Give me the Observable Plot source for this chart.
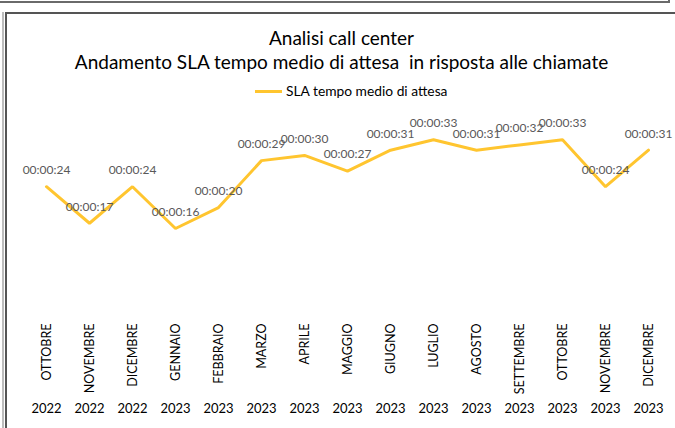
<!DOCTYPE html>
<html>
<head>
<meta charset="utf-8">
<script src="https://cdn.jsdelivr.net/npm/d3@7"></script>
<script src="https://cdn.jsdelivr.net/npm/@observablehq/plot@0.6"></script>
<style>
  html, body { margin: 0; padding: 0; background: #fff; }
  body { width: 675px; height: 428px; position: relative; overflow: hidden; font-family: Lato, "Open Sans", sans-serif; }
  #topline { position: absolute; left: 0; top: 1px; width: 670px; height: 2px; background: #6a6a6a; }
  #topcorner { position: absolute; left: 668px; top: 0; width: 2px; height: 3px; background: #6a6a6a; }
  #leftline { position: absolute; left: 2px; top: 12px; width: 2px; height: 420px; background: #bdbdbd; }
  #box { position: absolute; left: 5px; top: 12px; width: 700px; height: 430px; border-left: 2px solid #555; border-top: 2px solid #555; }
  .title { position: absolute; left: 4px; width: 675px; text-align: center; color: #000; white-space: pre; font-size: 19px; line-height: 22px; }
  #t1 { top: 27px; }
  #t2 { top: 51px; }
  #legend { position: absolute; top: 82px; left: 255px; font-size: 13.8px; line-height: 18px; color: #000; display: flex; align-items: center; }
  #legend .sw { width: 27px; height: 3px; background: #FFC52F; margin-right: 4px; }
  #chart { position: absolute; left: 0; top: 0; }
</style>
</head>
<body>
<div id="topline"></div>
<div id="topcorner"></div>
<div id="leftline"></div>
<div id="box"></div>
<div class="title" id="t1">Analisi call center</div>
<div class="title" id="t2">Andamento SLA tempo medio di attesa  in risposta alle chiamate</div>
<div id="legend"><div class="sw"></div><span>SLA tempo medio di attesa</span></div>
<div id="chart"></div>
<script>
const months = ["OTTOBRE","NOVEMBRE","DICEMBRE","GENNAIO","FEBBRAIO","MARZO","APRILE","MAGGIO","GIUGNO","LUGLIO","AGOSTO","SETTEMBRE","OTTOBRE","NOVEMBRE","DICEMBRE"];
const years = ["2022","2022","2022","2023","2023","2023","2023","2023","2023","2023","2023","2023","2023","2023","2023"];
const seconds = [24,17,24,16,20,29,30,27,31,33,31,32,33,24,31];

const data = months.map((m, i) => ({i, month: m, year: years[i], sec: seconds[i]}));
const fmt = s => "00:00:" + String(s).padStart(2, "0");

const plot = Plot.plot({
  width: 675,
  height: 428,
  marginTop: 102.7,
  marginBottom: 116.5,
  marginLeft: 43,
  marginRight: 24,
  x: { type: "point", domain: data.map(d => d.i), padding: 0, axis: null },
  y: { domain: [0, 40], axis: null },
  marks: [
    Plot.line(data, { x: "i", y: "sec", stroke: "#FFC52F", strokeWidth: 3, strokeLinejoin: "miter" }),
    Plot.text(data, { x: "i", y: "sec", text: d => fmt(d.sec), dy: -16.5, fill: "#595959", fontSize: 12, fontFamily: "Lato" }),
    Plot.text(data, { x: "i", text: "month", frameAnchor: "bottom", dy: 11.5, rotate: -90, textAnchor: "end", lineAnchor: "middle", fill: "#000", fontSize: 12.5, fontFamily: "Lato" }),
    Plot.text(data, { x: "i", text: "year", frameAnchor: "bottom", dy: 100.5, fill: "#000", fontSize: 13, fontFamily: "Lato" })
  ],
  style: { background: "transparent", overflow: "visible" }
});
document.getElementById("chart").appendChild(plot);
</script>
</body>
</html>
